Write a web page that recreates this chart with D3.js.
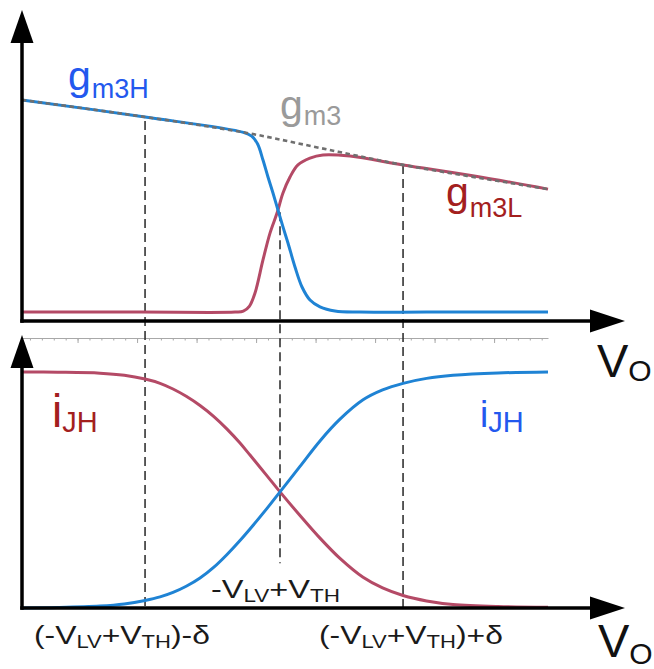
<!DOCTYPE html>
<html>
<head>
<meta charset="utf-8">
<script src="https://cdn.jsdelivr.net/npm/d3@7"></script>
<style>
  body { margin: 0; background: #fff; }
  svg { display: block; font-family: "Liberation Sans", Arial, Helvetica, sans-serif; }
</style>
</head>
<body>
<svg id="chart" width="654" height="669"></svg>
<script>
// ---- data (V_O in tick divisions, curve values normalised to panel height) ----
const voGm3 = [0, 10.34, 18.91, 25.04, 32.02, 44.2];
const gm3 = [1.000, 0.923, 0.850, 0.782, 0.705, 0.595];

const voGm3H = [0, 10.34, 18.6, 19.3, 19.8, 20.25, 20.67, 21.09, 21.51, 21.93, 22.35, 22.94, 23.53, 24.2, 25.04, 26.3, 28.4, 34, 44.2];
const gm3H = [1.000, 0.923, 0.853, 0.836, 0.800, 0.727, 0.650, 0.577, 0.500, 0.423, 0.350, 0.241, 0.150, 0.091, 0.060, 0.041, 0.036, 0.036, 0.036];

const voGm3L = [0, 10, 17.9, 18.6, 19.1, 19.58, 20.25, 20.84, 21.43, 21.93, 22.52, 23.19, 24.2, 25.29, 27.56, 32.02, 38, 44.2];
const gm3L = [0.036, 0.036, 0.036, 0.040, 0.062, 0.123, 0.273, 0.395, 0.486, 0.577, 0.650, 0.705, 0.736, 0.750, 0.745, 0.705, 0.655, 0.595];

const voI = [0, 3, 6.55, 8.6, 10.34, 11.6, 12.69, 13.8, 14.96, 16.1, 17.23, 18.3, 19.16, 20.59, 21.68, 23.36, 25.04, 26.72, 28.66, 30.3, 32.02, 34, 36.22, 40, 44.2];
const iFalling = [1.000, 0.999, 0.995, 0.986, 0.970, 0.952, 0.928, 0.897, 0.858, 0.812, 0.758, 0.700, 0.648, 0.560, 0.492, 0.392, 0.296, 0.210, 0.130, 0.085, 0.053, 0.030, 0.015, 0.006, 0.003];
const iRising  = [0.000, 0.002, 0.008, 0.017, 0.032, 0.047, 0.066, 0.092, 0.127, 0.172, 0.227, 0.285, 0.335, 0.422, 0.492, 0.600, 0.708, 0.800, 0.882, 0.924, 0.952, 0.973, 0.986, 0.996, 1.000];

// reference voltages: position, top end (upper panel units), bottom end (lower panel units)
const markerVo = [10.34, 21.68, 32.02];
const markerTop = [0.905, 0.49, 0.705];
const markerBottom = [0, 0.19, 0];
// marker labels as [text, isSubscript] runs
const markerLabels = [
  [["(-V", 0], ["LV", 1], ["+V", 0], ["TH", 1], [")-δ", 0]],
  [["-V", 0], ["LV", 1], ["+V", 0], ["TH", 1]],
  [["(-V", 0], ["LV", 1], ["+V", 0], ["TH", 1], [")+δ", 0]]
];

// ---- colours ----
const BLUE = "#1f83d4";
const RED = "#b44a66";
const AXIS = "#000";

const svg = d3.select("#chart");

// ---- scales ----
const x = d3.scaleLinear().domain([0, 44.2]).range([22, 548]);
const yTop = d3.scaleLinear().domain([0, 1]).range([320, 100]);
const yBot = d3.scaleLinear().domain([0, 1]).range([608, 372]);

const zip = (xs, ys) => xs.map((v, i) => [v, ys[i]]);
const smooth = d3.curveCatmullRom.alpha(0.5);
const lineTop = d3.line().x(d => x(d[0])).y(d => yTop(d[1])).curve(smooth);
const lineBot = d3.line().x(d => x(d[0])).y(d => yBot(d[1])).curve(smooth);

// ---- tick strip between the panels ----
const minorTicks = d3.range(0.67, 44, 1);
const majorTicks = minorTicks.filter((d, i) => (i + 1) % 5 === 0);
const strip = svg.append("g").attr("transform", "translate(0,338)");
strip.append("g")
  .call(d3.axisBottom(x).tickValues(minorTicks).tickSize(2.5).tickSizeOuter(0).tickFormat(""))
  .call(g => g.select(".domain").attr("stroke", "#a8a8a8").attr("stroke-width", 1))
  .call(g => g.selectAll(".tick line").attr("stroke", "#a8a8a8"));
strip.append("g")
  .call(d3.axisBottom(x).tickValues(majorTicks).tickSize(5).tickFormat(""))
  .call(g => g.select(".domain").remove())
  .call(g => g.selectAll(".tick line").attr("stroke", "#a8a8a8"));

// ---- dashed reference lines ----
svg.append("g").selectAll("line").data(markerVo).join("line")
  .attr("x1", d => x(d)).attr("x2", d => x(d))
  .attr("y1", (d, i) => yTop(markerTop[i]))
  .attr("y2", (d, i) => yBot(markerBottom[i]))
  .attr("stroke", "#333").attr("stroke-width", 1.6)
  .attr("stroke-dasharray", "9,5");

// ---- upper panel curves ----
svg.append("path").datum(zip(voGm3L, gm3L)).attr("d", lineTop)
  .attr("fill", "none").attr("stroke", RED).attr("stroke-width", 3);
svg.append("path").datum(zip(voGm3H, gm3H)).attr("d", lineTop)
  .attr("fill", "none").attr("stroke", BLUE).attr("stroke-width", 3);
svg.append("path").datum(zip(voGm3, gm3)).attr("d", lineTop)
  .attr("fill", "none").attr("stroke", "#6f6f6f").attr("stroke-width", 2.6)
  .attr("stroke-dasharray", "4.5,3.5");

// ---- lower panel curves ----
svg.append("path").datum(zip(voI, iFalling)).attr("d", lineBot)
  .attr("fill", "none").attr("stroke", RED).attr("stroke-width", 3);
svg.append("path").datum(zip(voI, iRising)).attr("d", lineBot)
  .attr("fill", "none").attr("stroke", BLUE).attr("stroke-width", 3);

// ---- axes with arrow heads ----
function axisPair(yAxisTop, xAxisY) {
  const g = svg.append("g");
  g.append("line").attr("x1", 22).attr("x2", 22).attr("y1", yAxisTop + 30).attr("y2", xAxisY + 1.75)
    .attr("stroke", AXIS).attr("stroke-width", 3.5);
  g.append("line").attr("x1", 20.25).attr("x2", 592).attr("y1", xAxisY).attr("y2", xAxisY)
    .attr("stroke", AXIS).attr("stroke-width", 3.5);
  g.append("path").attr("d", `M22,${yAxisTop}L10.5,${yAxisTop + 33}L33.5,${yAxisTop + 33}Z`).attr("fill", AXIS);
  g.append("path").attr("d", `M625,${xAxisY}L590,${xAxisY - 11.5}L590,${xAxisY + 11.5}Z`).attr("fill", AXIS);
}
axisPair(10, 321);
axisPair(335, 608);

// ---- symbol labels: main glyph followed by a subscript ----
function symbol(main, sub, x0, y0, mainSize, subSize, subDrop, fill, gap = 1) {
  const t = svg.append("text").attr("fill", fill);
  t.append("tspan").attr("x", x0).attr("y", y0).attr("font-size", mainSize).text(main);
  t.append("tspan").attr("dx", gap).attr("y", y0 + subDrop).attr("font-size", subSize).text(sub);
}

symbol("g", "m3H", 68, 90, 41, 27, 8, "#2358ee");
symbol("g", "m3", 280, 119, 41, 27, 6, "#9a9a9a");
symbol("g", "m3L", 446, 206, 41, 27, 11, "#a3201e");
symbol("i", "JH", 52, 427, 46, 29, 5, "#a3201e", 0);
symbol("i", "JH", 480, 427, 37, 29, 5, "#2358ee", 0);
symbol("V", "O", 597, 377, 47, 30, 4, "#111", 0);
symbol("V", "O", 598, 657, 47, 30, 7, "#111", 0);

// marker labels under the lower panel, stretched to their slot widths
const markerSlots = [
  { left: 34, width: 176, base: 644 },
  { left: 211, width: 129, base: 598 },
  { left: 319, width: 184, base: 644 }
];
markerLabels.forEach((runs, i) => {
  const slot = markerSlots[i];
  const g = svg.append("g");
  const t = g.append("text").attr("fill", "#1a1a1a");
  runs.forEach(([txt, sub]) => {
    t.append("tspan")
      .attr("font-size", sub ? 18 : 26)
      .attr("y", sub ? 4 : 0)
      .text(txt);
  });
  const w = t.node().getBBox().width;
  g.attr("transform", `translate(${slot.left},${slot.base}) scale(${slot.width / w},1)`);
});
</script>
</body>
</html>
